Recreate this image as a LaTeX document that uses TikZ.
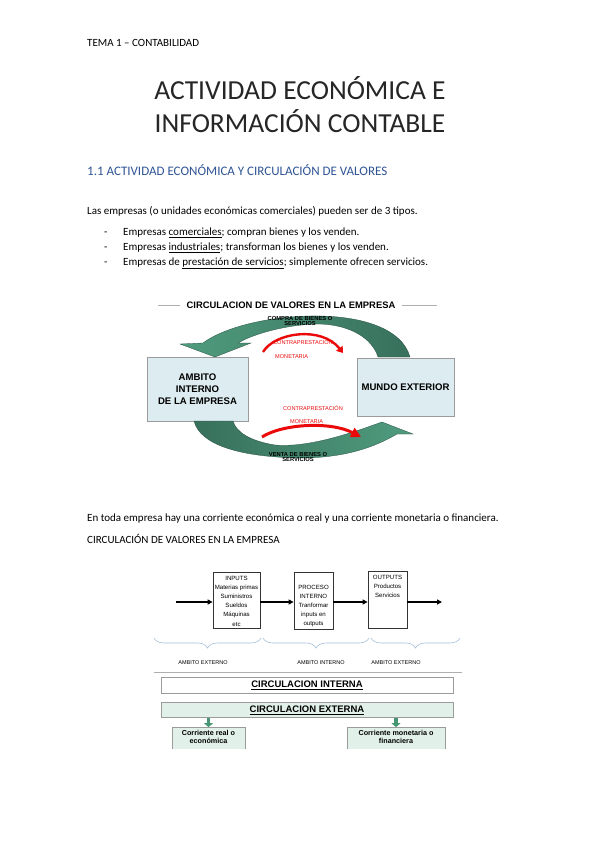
\documentclass[tikz,border=0pt]{standalone}
\usepackage{fontspec}
\setmainfont{Carlito}
\newfontfamily\arialfont{Liberation Sans}
\usetikzlibrary{arrows.meta, positioning, calc, decorations.pathreplacing}
\definecolor{headblue}{RGB}{47,84,150}
\definecolor{boxblue}{RGB}{221,236,240}
\definecolor{boxgray}{RGB}{155,155,155}
\definecolor{darkgreen}{RGB}{55,112,92}
\definecolor{lightgreen}{RGB}{80,156,126}
\definecolor{arrowred}{RGB}{235,10,10}
\definecolor{bracecol}{RGB}{165,192,220}
\definecolor{paleteal}{RGB}{226,240,234}
\definecolor{smallgreen}{RGB}{70,150,115}
\definecolor{rulegray}{RGB}{175,175,175}
\tikzset{
  bodytext/.style={anchor=base west, inner sep=0pt, font=\fontsize{11}{13}\selectfont},
  titletext/.style={anchor=base, inner sep=0pt, font=\fontsize{27.5}{32}\selectfont, text=black!85},
  headtext/.style={anchor=base west, inner sep=0pt, font=\fontsize{13}{16}\selectfont, text=headblue},
  ambitbox/.style={rectangle, draw=boxgray, fill=boxblue, line width=0.8pt,
    align=center, font=\arialfont\bfseries\fontsize{9.6}{12}\selectfont},
  tinylabel/.style={inner sep=0pt, align=center, font=\arialfont\bfseries\fontsize{5.8}{5.8}\selectfont},
  redlabel/.style={anchor=base west, inner sep=0pt, text=arrowred,
    font=\arialfont\fontsize{5.6}{6}\selectfont},
  redarrow/.style={draw=arrowred, line width=2.4pt, -{Triangle[length=6pt,width=8pt]}},
  procbox/.style={rectangle, draw=black!80, line width=0.8pt, fill=white},
  proctext/.style={inner sep=0pt, align=center, font=\arialfont\fontsize{6.1}{9.2}\selectfont},
  flow/.style={-{Triangle[length=5pt,width=5pt]}, line width=1.4pt},
  ambitbrace/.style={decorate, decoration={brace, mirror, amplitude=10pt}, draw=bracecol, line width=0.6pt},
  ambitlabel/.style={inner sep=0pt, font=\arialfont\fontsize{5.5}{6}\selectfont},
  circbox/.style={rectangle, draw=boxgray, line width=0.8pt, minimum width=292pt,
    minimum height=15pt, font=\arialfont\bfseries\fontsize{9.5}{10}\selectfont},
  streamtext/.style={inner sep=0pt, align=center, font=\arialfont\bfseries\fontsize{7.2}{8}\selectfont},
  downarrow/.style={draw=smallgreen, line width=3.5pt, -{Triangle[length=4pt,width=9pt]}}
}
\begin{document}
\begin{tikzpicture}[x=1pt,y=-1pt]
  \useasboundingbox (0,0) rectangle (599,848);
  \fill[white] (0,0) rectangle (599,848);

  % page text
  \node[bodytext] (tema) at (87,46.7) {TEMA 1 – CONTABILIDAD};
  \node[titletext] (title1) at (300,99.5) {ACTIVIDAD ECONÓMICA E};
  \node[titletext] (title2) at (300,132.7) {INFORMACIÓN CONTABLE};
  \node[headtext] (sect) at (87,175.7) {1.1 ACTIVIDAD ECONÓMICA Y CIRCULACIÓN DE VALORES};
  \node[bodytext] (intro) at (87,214) {Las empresas (o unidades económicas comerciales) pueden ser de 3 tipos.};
  \node[bodytext] (dash1) at (104,235.7) {-};
  \node[bodytext] (item1) at (123,235.7) {Empresas \underline{comerciales}; compran bienes y los venden.};
  \node[bodytext] (dash2) at (104,250.7) {-};
  \node[bodytext] (item2) at (123,250.7) {Empresas \underline{industriales}; transforman los bienes y los venden.};
  \node[bodytext] (dash3) at (104,265) {-};
  \node[bodytext] (item3) at (123,265) {Empresas de \underline{prestación de servicios}; simplemente ofrecen servicios.};

  % diagram 1: circulacion de valores
  \node[inner sep=0pt, font=\arialfont\bfseries\fontsize{9.4}{10}\selectfont] (dtitle) at (291,305) {CIRCULACION DE VALORES EN LA EMPRESA};
  \draw[rulegray, line width=0.5pt] ($(dtitle.west)+(-6,0)$) -- ++(-22,0);
  \draw[rulegray, line width=0.5pt] ($(dtitle.east)+(6,0)$) -- ++(35,0);

  \node[ambitbox, minimum width=101pt, minimum height=64pt] (ambito) at (197.5,389) {AMBITO\\INTERNO\\DE LA EMPRESA};
  \node[ambitbox, minimum width=97pt, minimum height=58pt] (mundo) at (405.5,387.5) {MUNDO EXTERIOR};

  % green arrows
  \shade[left color=lightgreen, right color=darkgreen, draw=darkgreen!70!black, line width=0.3pt]
    (410,357) .. controls (402,328) and (360,315) .. (310,316)
    .. controls (260,317) and (220,330) .. (203,343)
    -- (180,344) -- (215,357) -- (251,343) -- (238,343)
    .. controls (255,333) and (290,324) .. (320,324)
    .. controls (350,325) and (372,338) .. (378,357) -- cycle;
  \shade[left color=darkgreen, right color=lightgreen, draw=darkgreen!70!black, line width=0.3pt]
    (194,421) .. controls (200,445) and (240,457) .. (300,458)
    .. controls (345,458) and (375,447) .. (397,434)
    -- (413,434) -- (382,422) -- (365,428)
    .. controls (330,440) and (300,447) .. (275,445)
    .. controls (250,441) and (236,432) .. (233,421) -- cycle;

  % red arrows
  \draw[redarrow] (263,352) .. controls (275,332) and (322,326) .. (343,353);
  \draw[redarrow, line width=3pt, -{Triangle[length=10pt,width=10pt]}] (262,437) .. controls (282,424) and (330,421) .. (361,437);

  \node[tinylabel] (compra) at (300,321) {COMPRA DE BIENES O\\SERVICIOS};
  \node[redlabel] (contra1) at (273,344) {CONTRAPRESTACIÓN};
  \node[redlabel] (mone1) at (275,358) {MONETARIA};
  \node[redlabel] (contra2) at (283,410) {CONTRAPRESTACIÓN};
  \node[redlabel] (mone2) at (290,423) {MONETARIA};
  \node[tinylabel] (venta) at (298,457) {VENTA DE BIENES O\\SERVICIOS};

  \node[bodytext] (corr) at (87,521.5) {En toda empresa hay una corriente económica o real y una corriente monetaria o financiera.};
  \node[bodytext] (circ) at (87,543) {CIRCULACIÓN DE VALORES EN LA EMPRESA};

  % diagram 2: inputs / proceso / outputs
  \node[procbox, minimum width=47pt, minimum height=56pt] (inputs) at (236.5,600) {};
  \node[procbox, minimum width=39pt, minimum height=57pt] (proceso) at (313.5,600.5) {};
  \node[procbox, minimum width=39pt, minimum height=57pt] (outputs) at (387.5,599.5) {};
  \node[proctext, anchor=north] (inputstext) at ($(inputs.north)+(0,4)$) {INPUTS\\Materias primas\\Suministros\\Sueldos\\Máquinas\\etc};
  \node[proctext, anchor=north] (procesotext) at ($(proceso.north)+(0,13)$) {PROCESO\\INTERNO\\Tranformar\\inputs en\\outputs};
  \node[proctext, anchor=north] (outputstext) at ($(outputs.north)+(0,4)$) {OUTPUTS\\Productos\\Servicios};

  \coordinate (inlet) at (176,602);
  \coordinate (outlet) at (442,602);
  \draw[flow] (inlet) -- (inlet -| inputs.west);
  \draw[flow] (inputs.east |- inlet) -- (inlet -| proceso.west);
  \draw[flow] (proceso.east |- inlet) -- (inlet -| outputs.west);
  \draw[flow] (outputs.east |- outlet) -- (outlet);

  \draw[ambitbrace] (154,638) -- (261,638);
  \draw[ambitbrace] (263,638) -- (369,638);
  \draw[ambitbrace] (371,638) -- (460,638);
  \node[ambitlabel] (ext1) at (203,663) {AMBITO EXTERNO};
  \node[ambitlabel] (int1) at (321,663) {AMBITO INTERNO};
  \node[ambitlabel] (ext2) at (396,663) {AMBITO EXTERNO};
  \draw[rulegray, line width=0.8pt] (154,672) -- (462,672);

  \node[circbox, fill=white] (circint) at (307,685.5) {\underline{CIRCULACION INTERNA}};
  \node[circbox, fill=paleteal] (circext) at (307,710) {\underline{CIRCULACION EXTERNA}};

  % corrientes (cut at the bottom)
  \fill[paleteal] (172,727) rectangle (245,749);
  \draw[boxgray, line width=0.8pt] (172,749) -- (172,727) -- (245,727) -- (245,749);
  \fill[paleteal] (347,727) rectangle (445,749);
  \draw[boxgray, line width=0.8pt] (347,749) -- (347,727) -- (445,727) -- (445,749);
  \node[streamtext] (real) at (208.5,737) {Corriente real o\\económica};
  \node[streamtext] (monet) at (396,737) {Corriente monetaria o\\financiera};
  \draw[downarrow] (real.north |- circext.south) -- ++(0,9);
  \draw[downarrow] (monet.north |- circext.south) -- ++(0,9);
\end{tikzpicture}
\end{document}
